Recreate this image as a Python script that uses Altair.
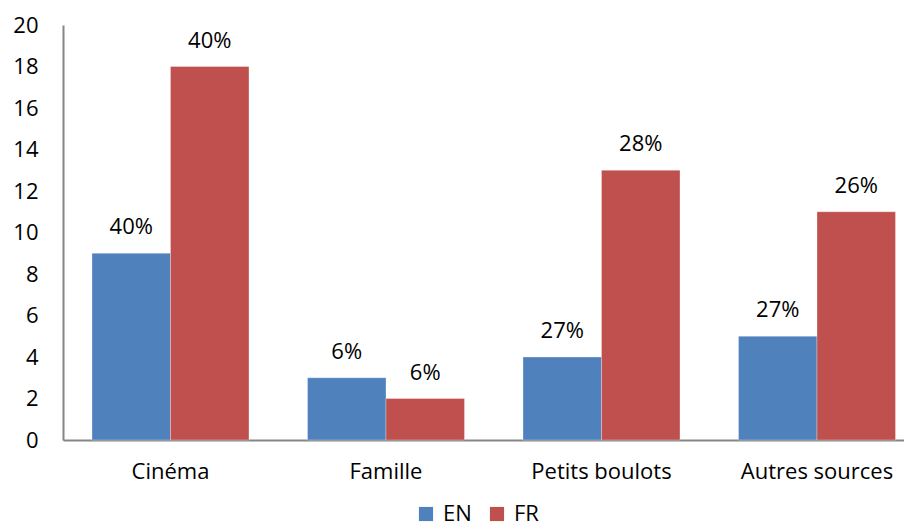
import altair as alt
import pandas as pd

categories = ["Cinéma", "Famille", "Petits boulots", "Autres sources"]
series = ["EN", "FR"]
en_values = [9, 3, 4, 5]
fr_values = [18, 2, 13, 11]
en_labels = ["40%", "6%", "27%", "27%"]
fr_labels = ["40%", "6%", "28%", "26%"]
y_ticks = list(range(0, 21, 2))

rows = []
for c, v, l in zip(categories, en_values, en_labels):
    rows.append({"cat": c, "serie": "EN", "val": v, "lab": l})
for c, v, l in zip(categories, fr_values, fr_labels):
    rows.append({"cat": c, "serie": "FR", "val": v, "lab": l})
df = pd.DataFrame(rows)

FONT = "Open Sans"
FS = 22

x = alt.X("cat:N", sort=categories, title=None,
          scale=alt.Scale(paddingInner=0.2715, paddingOuter=0.087, align=0.773),
          axis=alt.Axis(labelAngle=0, labelFontSize=FS, labelFont=FONT, labelColor="#000000",
                        ticks=False, labelPadding=21, domainColor="#868686", domainWidth=2))
y = alt.Y("val:Q", title=None,
          scale=alt.Scale(domain=[0, 20], nice=False),
          axis=alt.Axis(values=y_ticks, grid=False, ticks=False, labelFontSize=FS, labelFont=FONT,
                        labelColor="#000000", labelPadding=25, domainColor="#868686", domainWidth=2))
xo = alt.XOffset("serie:N", sort=series)

bars = alt.Chart(df).mark_bar(stroke="#ffffff", strokeWidth=0.5, strokeOpacity=0.6).encode(
    x=x, y=y, xOffset=xo,
    color=alt.Color("serie:N", sort=series,
                    scale=alt.Scale(domain=series, range=["#4F81BD", "#C0504D"]),
                    legend=alt.Legend(title=None, orient="none", direction="horizontal",
                                      legendX=352, legendY=478, symbolType="square", symbolSize=200,
                                      symbolStrokeWidth=0, labelFontSize=FS, labelFont=FONT,
                                      labelColor="#000000", columnPadding=14, labelOffset=6)),
)

text = alt.Chart(df).mark_text(baseline="bottom", dy=-14, fontSize=FS, font=FONT, color="#000000").encode(
    x=x, y=y, xOffset=xo, text="lab:N"
)

chart = (bars + text).properties(
    width=841, height=415,
    autosize=alt.AutoSizeParams(type="none"),
    padding={"left": 55, "top": 17, "right": 0, "bottom": 86},
).configure_view(stroke=None).configure_axis(labelFont=FONT)

chart.save("out.html", embed_options={"renderer": "svg", "actions": False})
